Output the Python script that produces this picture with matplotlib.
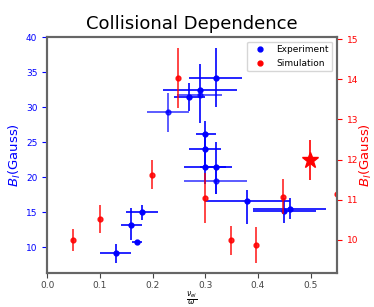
import matplotlib
matplotlib.use('Agg')
import matplotlib.pyplot as plt
import numpy as np

# experiment (left axis)
exp_x = [0.13, 0.16, 0.171, 0.18, 0.23, 0.27, 0.291, 0.291, 0.321, 0.30, 0.30, 0.30, 0.32, 0.32, 0.38, 0.45, 0.461]
exp_y = [9.2, 13.2, 10.7, 15.0, 29.3, 31.5, 32.5, 31.8, 34.2, 26.1, 24.0, 21.5, 21.5, 19.5, 16.6, 15.1, 15.4]
exp_xlo = [0.10, 0.14, 0.161, 0.15, 0.19, 0.24, 0.22, 0.247, 0.27, 0.282, 0.27, 0.26, 0.29, 0.26, 0.30, 0.39, 0.39]
exp_xhi = [0.16, 0.18, 0.18, 0.21, 0.269, 0.30, 0.361, 0.331, 0.37, 0.32, 0.33, 0.34, 0.35, 0.38, 0.46, 0.51, 0.53]
exp_ylo = [7.7, 11.0, 10.4, 13.8, 26.5, 29.4, 27.8, 31.8, 30.0, 23.5, 21.0, 19.0, 17.6, 17.6, 13.3, 13.5, 14.0]
exp_yhi = [10.5, 15.6, 11.0, 16.0, 32.0, 33.4, 36.1, 31.8, 38.4, 28.0, 26.5, 24.0, 25.0, 21.5, 18.1, 17.0, 17.0]
exp_alpha = [1, 1, 1, 1, 0.75, 1, 1, 0.75, 1, 1, 1, 1, 1, 0.75, 1, 1, 1]

# simulation (right axis)
sim_x = [0.05, 0.10, 0.199, 0.249, 0.299, 0.349, 0.397, 0.448, 0.55]
sim_y = [10.0, 10.53, 11.63, 14.04, 11.04, 9.99, 9.87, 11.08, 11.14]
sim_err = [0.27, 0.35, 0.37, 0.75, 0.62, 0.37, 0.45, 0.43, 0.4]
star_x = [0.499]
star_y = [12.0]
star_err = [0.5]

fig = plt.figure(figsize=(3.74, 3.07), dpi=100)
ax = fig.add_axes([0.126, 0.111, 0.775, 0.768])
ax2 = ax.twinx()

for i in range(len(exp_x)):
    xe = [[exp_x[i] - exp_xlo[i]], [exp_xhi[i] - exp_x[i]]]
    ye = [[exp_y[i] - exp_ylo[i]], [exp_yhi[i] - exp_y[i]]]
    ax.errorbar([exp_x[i]], [exp_y[i]], xerr=xe, yerr=ye, fmt='o', color='blue',
                ms=3.5, elinewidth=1.2, alpha=exp_alpha[i])
ax.plot([], [], 'o', color='blue', ms=3.5, label='Experiment')
ax.plot([], [], 'o', color='red', ms=3.5, label='Simulation')

ax2.errorbar(sim_x, sim_y, yerr=sim_err, fmt='o', color='red', ms=3.5, elinewidth=1.2, alpha=0.85)
ax2.errorbar(star_x, star_y, yerr=star_err, fmt='*', color='red', ms=12, elinewidth=1.2)

ax.set_xlim(0, 0.55)
ax.set_ylim(6.3, 40)
ax2.set_ylim(9.18, 15.05)
ax.set_yticks([10, 15, 20, 25, 30, 35, 40])
ax2.set_yticks([10, 11, 12, 13, 14, 15])

ax.tick_params(axis='y', colors='blue', labelsize=6.5)
ax.tick_params(axis='x', labelsize=6.5, colors='#444444', pad=2)
ax2.tick_params(axis='y', colors='red', labelsize=6.5)
for a in (ax, ax2):
    for s in a.spines.values():
        s.set_color('#666666')
        s.set_linewidth(1.5)

ax.set_title('Collisional Dependence', fontsize=13)
ax.set_xlabel(r'$\frac{\nu_{ei}}{\omega}$', fontsize=8, labelpad=0)
ax.set_ylabel(r'$B_I$(Gauss)', color='blue', fontsize=9.5, labelpad=2)
ax2.set_ylabel(r'$B_I$(Gauss)', color='red', fontsize=9.5, labelpad=0)
ax.legend(loc='upper right', fontsize=6.5)

fig.savefig('out.png', dpi=100)
